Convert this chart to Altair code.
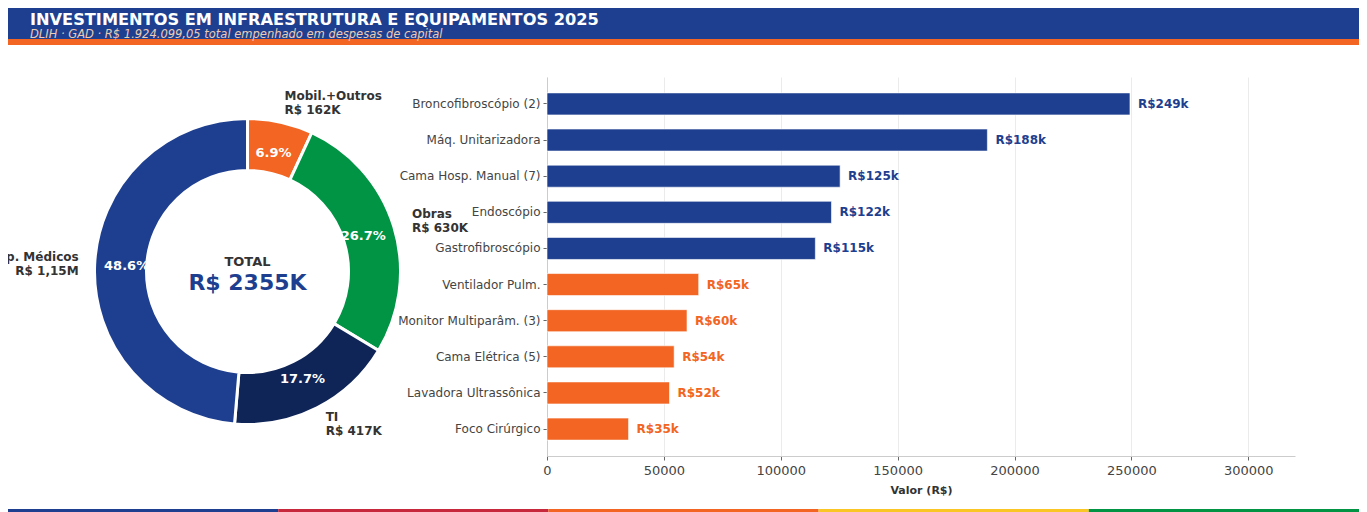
import altair as alt
import pandas as pd

FONT = "DejaVu Sans"

# ---- Donut data (R$ mil) ----
categorias = ["Mobil.+Outros", "Obras", "TI", "Equip. Médicos"]
valores_cat = [162.5, 629.5, 417.2, 1145.6]
rotulos_cat = ["Mobil.+Outros\nR$ 162K", "Obras\nR$ 630K", "TI\nR$ 417K", "Equip. Médicos\nR$ 1,15M"]
lado_cat = ["dir", "dir", "dir", "esq"]
cores_cat = ["#F26522", "#009444", "#0F2557", "#1E3F8F"]

# ---- Bar data (R$) ----
itens = ["Broncofibroscópio (2)", "Máq. Unitarizadora", "Cama Hosp. Manual (7)", "Endoscópio",
         "Gastrofibroscópio", "Ventilador Pulm.", "Monitor Multiparâm. (3)", "Cama Elétrica (5)",
         "Lavadora Ultrassônica", "Foco Cirúrgico"]
valores_itens = [249400, 188400, 125400, 121700, 114800, 64900, 59900, 54400, 52400, 34900]
cores_itens = ["#1E3F8F"] * 5 + ["#F26522"] * 5
x_ticks = [0, 50000, 100000, 150000, 200000, 250000, 300000]

titulo = "INVESTIMENTOS EM INFRAESTRUTURA E EQUIPAMENTOS 2025"
subtitulo = "DLIH · GAD · R$ 1.924.099,05 total empenhado em despesas de capital"
faixa_cores = ["#1E3F8F", "#C8283C", "#F26522", "#F9C623", "#009444"]

# ---- layout (pixels relative to plot area of the bar chart) ----
W, H = 748, 379
PAD_L, PAD_T = 539, 69
TOTAL_W, TOTAL_H = 1351, 504
CX, CY = -299.5, 194.5

one = pd.DataFrame({"a": [0]})

# header
header = alt.Chart(one).mark_rect(color="#1E3F8F").encode(
    x=alt.value(-PAD_L), x2=alt.value(TOTAL_W - PAD_L), y=alt.value(-73), y2=alt.value(-38))
header_line = alt.Chart(one).mark_rect(color="#F26522").encode(
    x=alt.value(-PAD_L), x2=alt.value(TOTAL_W - PAD_L), y=alt.value(-38), y2=alt.value(-32))
title_t = alt.Chart(one).mark_text(font=FONT, fontSize=16.2, fontWeight="bold", color="white",
                                   align="left", baseline="alphabetic").encode(
    x=alt.value(-517), y=alt.value(-52), text=alt.value(titulo))
sub_t = alt.Chart(one).mark_text(font=FONT, fontSize=11.5, fontStyle="italic", color="#EDCBB3",
                                 align="left", baseline="alphabetic").encode(
    x=alt.value(-517), y=alt.value(-39), text=alt.value(subtitulo))

# bars
bars_df = pd.DataFrame({"item": itens, "valor": valores_itens, "cor": cores_itens})
base_b = alt.Chart(bars_df).encode(
    y=alt.Y("item:N", sort=itens,
            scale=alt.Scale(paddingInner=0.39, paddingOuter=0.44),
            axis=alt.Axis(title=None, labelFont=FONT, labelFontSize=12, labelColor="#444444",
                          tickColor="#666666", tickSize=4, domainColor="#CCCCCC", labelPadding=3,
                          labelLimit=300, grid=False)),
    x=alt.X("valor:Q", scale=alt.Scale(domain=[0, 320000], nice=False),
            axis=alt.Axis(values=x_ticks, format="d", title="Valor (R$)", labelFont=FONT,
                          labelFontSize=13, labelColor="#444444", tickColor="#666666", tickSize=4,
                          domainColor="#CCCCCC", grid=True, gridColor="#EBEBEB", labelPadding=4,
                          labelFlush=False,
                          titleFont=FONT, titleFontSize=11, titleFontWeight="bold",
                          titleColor="#333333", titlePadding=7)),
)
bars = base_b.mark_bar(stroke="white", strokeWidth=0.6).encode(color=alt.Color("cor:N", scale=None))
bar_labels = base_b.transform_calculate(
    lbl="'R$' + format(datum.valor / 1000, '.0f') + 'k'"
).mark_text(align="left", dx=8, font=FONT, fontSize=12, fontWeight="bold").encode(
    text="lbl:N", color=alt.Color("cor:N", scale=None))

# donut
donut_df = pd.DataFrame({"categoria": categorias, "valor": valores_cat,
                         "ordem": list(range(len(categorias))), "rotulo": rotulos_cat, "lado": lado_cat})
base_d = alt.Chart(donut_df).encode(
    theta=alt.Theta("valor:Q", stack=True),
    order=alt.Order("ordem:Q"),
    x=alt.value(CX), y=alt.value(CY))
arcs = base_d.mark_arc(innerRadius=101, outerRadius=153, stroke="white", strokeWidth=3).encode(
    color=alt.Color("categoria:N", scale=alt.Scale(domain=categorias, range=cores_cat), legend=None))
pct = base_d.transform_joinaggregate(total="sum(valor)").transform_calculate(
    pct="format(datum.valor / datum.total, '.1%')"
).mark_text(radius=121, font=FONT, fontSize=13, fontWeight="bold", color="white").encode(text="pct:N")
lab_r = base_d.transform_calculate(t="datum.lado == 'dir' ? datum.rotulo : ''").mark_text(
    radius=172, align="left", baseline="middle", lineBreak="\n", lineHeight=14, dy=-7.5, font=FONT,
    fontSize=12, fontWeight="bold", color="#333333").encode(text="t:N")
lab_l = base_d.transform_calculate(t="datum.lado == 'esq' ? datum.rotulo : ''").mark_text(
    radius=172, align="right", baseline="middle", lineBreak="\n", lineHeight=14, dy=-7, dx=3, font=FONT,
    fontSize=12, fontWeight="bold", color="#333333").encode(text="t:N")

total_k = round(sum(valores_cat))
c1 = alt.Chart(one).mark_text(font=FONT, fontSize=13, fontWeight="bold", color="#333333").encode(
    x=alt.value(CX), y=alt.value(CY - 10), text=alt.value("TOTAL"))
c2 = alt.Chart(one).mark_text(font=FONT, fontSize=22, fontWeight="bold", color="#1E3F8F").encode(
    x=alt.value(CX), y=alt.value(CY + 11), text=alt.value(f"R$ {total_k}K"))

# bottom colour strip
seg = TOTAL_W / len(faixa_cores)
strip = [alt.Chart(one).mark_rect(color=c).encode(
    x=alt.value(-PAD_L + i * seg), x2=alt.value(-PAD_L + (i + 1) * seg),
    y=alt.value(TOTAL_H - PAD_T - 3), y2=alt.value(TOTAL_H - PAD_T))
    for i, c in enumerate(faixa_cores)]

chart = alt.layer(header, header_line, title_t, sub_t, bars, bar_labels, arcs, pct, lab_r, lab_l,
                  c1, c2, *strip).resolve_scale(color="independent").properties(
    width=W, height=H,
    autosize=alt.AutoSizeParams(type="none"),
    padding={"left": PAD_L, "top": PAD_T, "right": TOTAL_W - PAD_L - W, "bottom": TOTAL_H - PAD_T - H},
    background="white",
).configure_view(stroke=None)

chart.save("out.html", embed_options={"renderer": "svg", "actions": False})
